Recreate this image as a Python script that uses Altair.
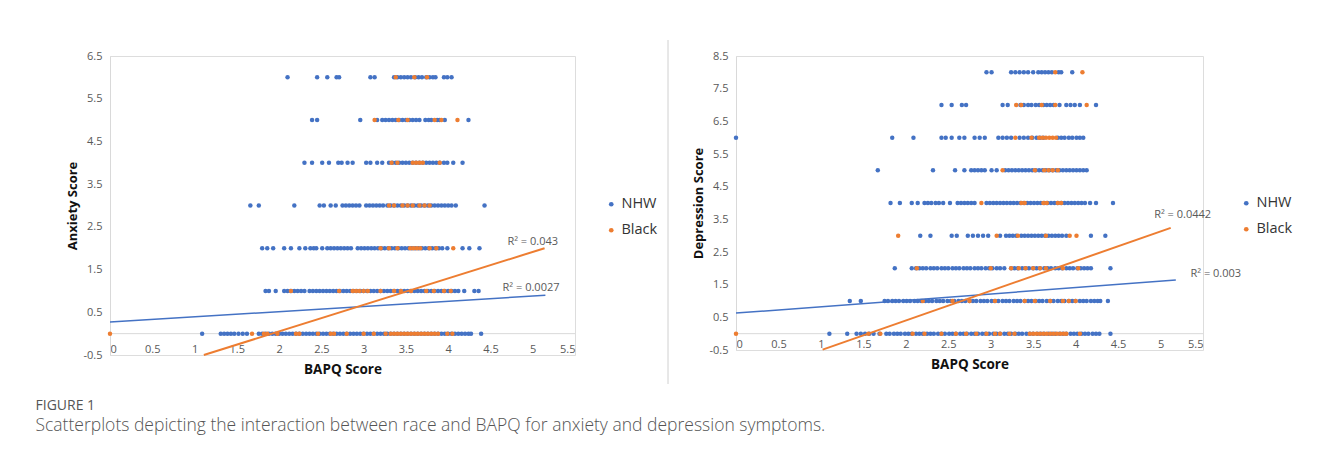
import altair as alt
import pandas as pd

# ---------------- data ----------------
races = ["NHW", "Black"]
colors = ["#4472C4", "#ED7D31"]

# Anxiety panel: BAPQ scores by anxiety score level
A6_nhw = [2.10, 2.45, 2.57, 2.68, 2.71, 3.08, 3.13, 3.36, 3.40, 3.44, 3.48, 3.52, 3.56, 3.61, 3.65, 3.69, 3.74, 3.78, 3.82, 3.85, 3.95, 3.99, 4.04]
A6_blk = [3.38, 3.60, 3.75]
A5_nhw = [2.39, 2.45, 2.96, 3.16, 3.22, 3.26, 3.30, 3.34, 3.38, 3.42, 3.46, 3.50, 3.54, 3.58, 3.62, 3.66, 3.73, 3.77, 3.80, 3.87, 3.90, 3.96, 4.24]
A5_blk = [3.13, 3.41, 3.52, 3.84, 3.92, 4.11]
A4_nhw = [2.30, 2.39, 2.51, 2.59, 2.70, 2.74, 2.81, 2.87, 3.03, 3.08, 3.16, 3.22, 3.30, 3.34, 3.38, 3.42, 3.46, 3.50, 3.54, 3.58, 3.62, 3.66, 3.70, 3.74, 3.78, 3.82, 3.86, 3.90, 3.95, 3.99, 4.06, 4.17]
A4_blk = [3.33, 3.40, 3.58, 3.62, 3.66, 3.70, 3.90]
A3_nhw = [1.66, 1.76, 2.18, 2.48, 2.53, 2.61, 2.67, 2.75, 2.79, 2.83, 2.87, 2.91, 2.95, 3.03, 3.07, 3.11, 3.15, 3.19, 3.23, 3.28, 3.32, 3.36, 3.40, 3.44, 3.48, 3.52, 3.56, 3.60, 3.64, 3.68, 3.72, 3.76, 3.80, 3.84, 3.88, 3.92, 3.96, 4.00, 4.04, 4.09, 4.43]
A3_blk = [3.30, 3.36, 3.46, 3.52, 3.58, 3.66, 3.72, 3.78]
A2_nhw = [1.80, 1.86, 1.93, 2.06, 2.14, 2.24, 2.31, 2.37, 2.41, 2.44, 2.51, 2.57, 2.61, 2.65, 2.69, 2.73, 2.77, 2.81, 2.85, 2.93, 2.97, 3.01, 3.05, 3.09, 3.13, 3.17, 3.21, 3.25, 3.29, 3.33, 3.37, 3.41, 3.45, 3.49, 3.53, 3.57, 3.61, 3.65, 3.69, 3.73, 3.77, 3.81, 3.85, 3.89, 3.93, 3.99, 4.17, 4.25, 4.37]
A2_blk = [3.20, 3.30, 3.40, 3.55, 3.59, 3.63, 3.67, 3.78, 3.86, 4.06]
A1_nhw = [1.84, 1.88, 1.96, 2.06, 2.10, 2.14, 2.18, 2.22, 2.26, 2.30, 2.36, 2.40, 2.44, 2.48, 2.52, 2.56, 2.60, 2.64, 2.68, 2.72, 2.76, 2.80, 2.84, 2.88, 2.92, 2.96, 3.00, 3.04, 3.08, 3.12, 3.16, 3.20, 3.24, 3.28, 3.32, 3.36, 3.40, 3.44, 3.48, 3.52, 3.56, 3.60, 3.64, 3.68, 3.72, 3.76, 3.80, 3.84, 3.88, 3.92, 3.96, 4.00, 4.04, 4.08, 4.12, 4.19, 4.31, 4.36]
A1_blk = [2.14, 2.71, 2.87, 2.91, 2.95, 3.00, 3.05, 3.20, 3.36, 3.44, 3.56, 3.74, 3.83, 3.95, 4.03]
A0_nhw = [1.09, 1.31, 1.35, 1.39, 1.43, 1.47, 1.52, 1.57, 1.62, 1.76, 1.80, 1.84, 1.88, 1.92, 1.96, 2.00, 2.04, 2.08, 2.12, 2.16, 2.20, 2.24, 2.28, 2.32, 2.36, 2.40, 2.44, 2.48, 2.52, 2.56, 2.60, 2.64, 2.68, 2.72, 2.76, 2.80, 2.84, 2.88, 2.92, 2.96, 3.00, 3.04, 3.08, 3.12, 3.16, 3.20, 3.24, 3.28, 3.32, 3.36, 3.40, 3.44, 3.48, 3.52, 3.56, 3.60, 3.64, 3.68, 3.72, 3.76, 3.80, 3.84, 3.88, 3.92, 3.96, 4.00, 4.04, 4.08, 4.12, 4.16, 4.20, 4.24, 4.27, 4.39]
A0_blk = [0.0, 1.68, 1.82, 1.86, 1.98, 2.20, 2.24, 2.46, 2.61, 2.65, 2.80, 3.00, 3.12, 3.26, 3.32, 3.36, 3.40, 3.44, 3.48, 3.52, 3.56, 3.60, 3.64, 3.68, 3.72, 3.76, 3.80, 3.84, 3.88, 3.99, 4.05]

# Depression panel
D8_nhw = [2.95, 3.01, 3.24, 3.29, 3.34, 3.39, 3.44, 3.50, 3.56, 3.60, 3.64, 3.68, 3.72, 3.80, 3.83, 3.96]
D8_blk = [3.76, 4.08]
D7_nhw = [2.42, 2.54, 2.66, 2.71, 3.14, 3.20, 3.35, 3.39, 3.44, 3.48, 3.53, 3.57, 3.62, 3.66, 3.70, 3.74, 3.81, 3.89, 3.94, 3.99, 4.05, 4.24]
D7_blk = [3.30, 3.36, 3.60, 3.76, 4.13]
D6_nhw = [0.0, 1.84, 2.09, 2.42, 2.47, 2.54, 2.63, 2.69, 2.81, 2.87, 2.93, 3.09, 3.14, 3.19, 3.24, 3.34, 3.39, 3.44, 3.49, 3.54, 3.58, 3.62, 3.79, 3.83, 3.87, 3.92, 3.96, 4.01, 4.05, 4.09]
D6_blk = [3.29, 3.48, 3.57, 3.61, 3.65, 3.69, 3.73, 3.77]
D5_nhw = [1.67, 2.32, 2.58, 2.69, 2.77, 2.81, 2.85, 2.89, 2.93, 3.01, 3.07, 3.17, 3.21, 3.25, 3.29, 3.33, 3.37, 3.41, 3.45, 3.49, 3.53, 3.57, 3.61, 3.65, 3.69, 3.73, 3.77, 3.81, 3.85, 3.89, 3.93, 3.97, 4.01, 4.05, 4.09, 4.13]
D5_blk = [3.14, 3.52, 3.63, 3.68, 3.73, 3.79]
D4_nhw = [1.82, 1.93, 2.07, 2.14, 2.22, 2.26, 2.30, 2.35, 2.39, 2.44, 2.52, 2.61, 2.65, 2.69, 2.73, 2.77, 2.81, 2.95, 2.99, 3.03, 3.07, 3.11, 3.15, 3.19, 3.23, 3.27, 3.31, 3.35, 3.39, 3.43, 3.47, 3.51, 3.55, 3.59, 3.63, 3.67, 3.71, 3.75, 3.79, 3.83, 3.87, 3.91, 3.95, 3.99, 4.03, 4.07, 4.11, 4.17, 4.24, 4.44]
D4_blk = [2.89, 3.36, 3.40, 3.62, 3.66, 3.79, 3.83]
D3_nhw = [2.17, 2.29, 2.54, 2.60, 2.73, 2.79, 2.85, 2.91, 2.97, 3.11, 3.18, 3.22, 3.26, 3.30, 3.36, 3.40, 3.44, 3.48, 3.52, 3.56, 3.60, 3.64, 3.68, 3.72, 3.76, 3.80, 3.84, 3.89, 4.18, 4.35]
D3_blk = [1.91, 3.07, 3.32, 3.65, 3.93, 4.01]
D2_nhw = [1.87, 2.07, 2.12, 2.16, 2.20, 2.24, 2.29, 2.33, 2.37, 2.42, 2.46, 2.50, 2.55, 2.59, 2.63, 2.68, 2.72, 2.76, 2.81, 2.85, 2.89, 2.94, 2.98, 3.02, 3.07, 3.11, 3.16, 3.24, 3.28, 3.32, 3.37, 3.41, 3.45, 3.50, 3.54, 3.58, 3.63, 3.67, 3.71, 3.76, 3.80, 3.84, 3.89, 3.93, 3.97, 4.02, 4.06, 4.10, 4.14, 4.18, 4.41]
D2_blk = [2.13, 3.00, 3.24, 3.33, 3.41, 3.50, 3.58, 3.65, 3.85, 4.03]
D1_nhw = [1.34, 1.47, 1.75, 1.79, 1.84, 1.88, 1.92, 1.97, 2.01, 2.05, 2.10, 2.14, 2.18, 2.23, 2.27, 2.31, 2.36, 2.40, 2.44, 2.49, 2.53, 2.57, 2.62, 2.66, 2.70, 2.75, 2.79, 2.83, 2.88, 2.92, 2.96, 3.01, 3.05, 3.09, 3.14, 3.18, 3.22, 3.27, 3.31, 3.35, 3.40, 3.44, 3.48, 3.53, 3.57, 3.61, 3.66, 3.70, 3.74, 3.79, 3.83, 3.87, 3.92, 3.96, 4.00, 4.05, 4.09, 4.13, 4.18, 4.22, 4.26, 4.29, 4.38]
D1_blk = [2.20, 2.55, 2.75, 3.05, 3.40, 3.52, 3.70, 3.85, 3.92, 4.00]
D0_nhw = [1.10, 1.31, 1.42, 1.47, 1.52, 1.57, 1.62, 1.69, 1.77, 1.81, 1.86, 1.90, 1.94, 1.99, 2.03, 2.07, 2.12, 2.16, 2.20, 2.25, 2.29, 2.33, 2.38, 2.42, 2.46, 2.51, 2.55, 2.59, 2.64, 2.68, 2.72, 2.77, 2.81, 2.85, 2.90, 2.94, 2.98, 3.03, 3.07, 3.11, 3.16, 3.20, 3.24, 3.29, 3.33, 3.37, 3.42, 3.46, 3.50, 3.55, 3.59, 3.63, 3.68, 3.72, 3.76, 3.81, 3.85, 3.89, 3.94, 3.98, 4.02, 4.07, 4.11, 4.15, 4.20, 4.24, 4.28, 4.41]
D0_blk = [0.0, 1.56, 1.70, 2.08, 2.22, 2.42, 2.59, 2.71, 2.83, 2.95, 3.05, 3.11, 3.22, 3.28, 3.46, 3.50, 3.54, 3.58, 3.62, 3.66, 3.70, 3.74, 3.78, 3.82, 3.86, 3.89, 4.05]

# trend line end points (x0, y0, x1, y1) and R² labels (x, y, text)
anx_trend_nhw = [0.0, 0.27, 5.15, 0.90]
anx_trend_blk = [1.11, -0.5, 5.14, 2.0]
dep_trend_nhw = [0.0, 0.63, 5.18, 1.64]
dep_trend_blk = [1.02, -0.49, 5.12, 3.24]
anx_r2 = [[5.0, 2.14, "R² = 0.043"], [4.98, 1.08, "R² = 0.0027"]]
dep_r2 = [[5.26, 3.64, "R² = 0.0442"], [5.65, 1.83, "R² = 0.003"]]

x_ticks = [0, 0.5, 1, 1.5, 2, 2.5, 3, 3.5, 4, 4.5, 5, 5.5]
anx_y_ticks = [-0.5, 0.5, 1.5, 2.5, 3.5, 4.5, 5.5, 6.5]
dep_y_ticks = [-0.5, 0.5, 1.5, 2.5, 3.5, 4.5, 5.5, 6.5, 7.5, 8.5]

caption_head = "FIGURE 1"
caption_text = "Scatterplots depicting the interaction between race and BAPQ for anxiety and depression symptoms."

FONT = "Open Sans"
LABEL_COLOR = "#595959"


def points_frame(rows):
    recs = []
    for race in races:
        for level, nhw, blk in rows:
            vals = nhw if race == "NHW" else blk
            for v in vals:
                recs.append({"x": v, "y": level, "race": race})
    return pd.DataFrame(recs)


anx_rows = [(6, A6_nhw, A6_blk), (5, A5_nhw, A5_blk), (4, A4_nhw, A4_blk), (3, A3_nhw, A3_blk),
            (2, A2_nhw, A2_blk), (1, A1_nhw, A1_blk), (0, A0_nhw, A0_blk)]
dep_rows = [(8, D8_nhw, D8_blk), (7, D7_nhw, D7_blk), (6, D6_nhw, D6_blk), (5, D5_nhw, D5_blk),
            (4, D4_nhw, D4_blk), (3, D3_nhw, D3_blk), (2, D2_nhw, D2_blk), (1, D1_nhw, D1_blk),
            (0, D0_nhw, D0_blk)]


def panel(rows, ymax, yticks, ytitle, trend_nhw, trend_blk, r2, width, height, legx, legy, separator=False):
    xs = alt.Scale(domain=[0, 5.5], nice=False, zero=False)
    ys = alt.Scale(domain=[-0.5, ymax], nice=False, zero=False)
    xaxis = alt.Axis(values=x_ticks, domain=False, ticks=False, tickSize=0, grid=False,
                     labelPadding=-12, labelFontSize=11, labelColor=LABEL_COLOR, labelFont=FONT,
                     labelExpr="'' + datum.value", title="BAPQ Score", titleFont=FONT,
                     titleFontSize=13.5, titleFontWeight="bold", titleColor="#111111",
                     titlePadding=7)
    yaxis = alt.Axis(values=yticks, domain=True, domainColor="#d9d9d9", ticks=False, tickSize=0,
                     grid=False, labelPadding=8, labelFontSize=11, labelColor=LABEL_COLOR,
                     labelFont=FONT, labelExpr="'' + datum.value", title=ytitle, titleFont=FONT,
                     titleFontSize=13, titleFontWeight="bold", titleColor="#111111",
                     titlePadding=3)

    zero_line = alt.Chart(pd.DataFrame({"a": [0]})).mark_rule(color="#d9d9d9", strokeWidth=1).encode(
        x=alt.datum(0, scale=xs, axis=xaxis, type="quantitative"),
        x2=alt.datum(5.5),
        y=alt.datum(0, scale=ys, axis=yaxis, type="quantitative"),
    )

    pts = alt.Chart(points_frame(rows)).mark_circle(size=20, opacity=1).encode(
        x=alt.X("x:Q", scale=xs, axis=xaxis),
        y=alt.Y("y:Q", scale=ys, axis=yaxis),
        color=alt.Color("race:N", scale=alt.Scale(domain=races, range=colors), sort=races,
                        legend=alt.Legend(title=None, orient="none", legendX=legx, legendY=legy,
                                          labelFontSize=14.5, labelFont=FONT, labelColor="#333333",
                                          symbolType="circle", symbolSize=22, rowPadding=11,
                                          labelOffset=3)),
    )

    def trend(t, c, w):
        df = pd.DataFrame({"x": [t[0], t[2]], "y": [t[1], t[3]]})
        return alt.Chart(df).mark_line(color=c, strokeWidth=w).encode(
            x=alt.X("x:Q", scale=xs, axis=xaxis), y=alt.Y("y:Q", scale=ys, axis=yaxis))

    r2df = pd.DataFrame(r2, columns=["x", "y", "t"])
    r2text = alt.Chart(r2df).mark_text(font=FONT, fontSize=11, color=LABEL_COLOR).encode(
        x=alt.X("x:Q", scale=xs, axis=xaxis), y=alt.Y("y:Q", scale=ys, axis=yaxis), text="t:N")

    layers = [zero_line, pts, trend(trend_nhw, colors[0], 1.5), trend(trend_blk, colors[1], 2), r2text]
    if separator:
        sep = alt.Chart(pd.DataFrame({"a": [0]})).mark_rule(color="#d0d0d0", strokeWidth=1).encode(
            x=alt.value(-68), y=alt.value(-16), y2=alt.value(328))
        layers.append(sep)
    return alt.layer(*layers).properties(width=width, height=height)


left = panel(anx_rows, 6.5, anx_y_ticks, "Anxiety Score", anx_trend_nhw, anx_trend_blk, anx_r2,
             465, 299, 494, 141)
right = panel(dep_rows, 8.5, dep_y_ticks, "Depression Score", dep_trend_nhw, dep_trend_blk, dep_r2,
              467, 294, 503, 140, separator=True)

chart = alt.hconcat(left, right, spacing=8).resolve_scale(
    color="independent", x="independent", y="independent").resolve_legend(color="independent").properties(
    title=alt.TitleParams(caption_head, subtitle=caption_text, orient="bottom", anchor="start",
                          font=FONT, fontSize=14, fontWeight="normal", color="#555555",
                          subtitleFont=FONT, subtitleFontSize=17.5, subtitleColor="#555555",
                          subtitleFontWeight=300, subtitlePadding=4, offset=14, dx=-31),
    padding={"left": 27, "top": 31, "right": 5, "bottom": 5},
).configure_view(stroke=None).configure(background="white")

chart.save("out.html", embed_options={"renderer": "svg", "actions": False})
